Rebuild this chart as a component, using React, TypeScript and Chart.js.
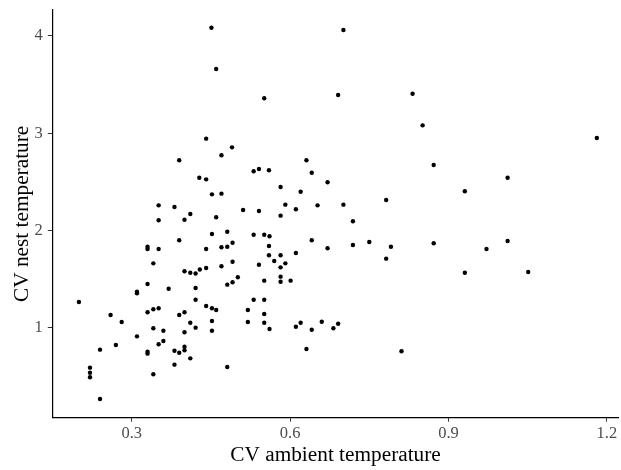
import { useEffect, useRef } from "react";
import { Chart, registerables } from "chart.js";

Chart.register(...registerables);

const xValues = [
  0.390, 0.330, 0.330, 0.351, 0.341, 0.400, 0.411, 0.421, 0.429, 0.330,
  0.310, 0.310, 0.370, 0.421, 0.421, 0.200, 0.330, 0.341, 0.351, 0.390,
  0.400, 0.260, 0.281, 0.411, 0.421, 0.341, 0.360, 0.400, 0.310, 0.360,
  0.351, 0.270, 0.240, 0.330, 0.330, 0.381, 0.390, 0.400, 0.400, 0.411,
  0.381, 0.341, 0.221, 0.221, 0.221, 0.240,
  0.452, 0.481, 0.531, 0.551, 0.561, 0.641, 0.671, 0.719, 0.441, 0.470,
  0.481, 0.491, 0.560, 0.560, 0.582, 0.611, 0.491, 0.570, 0.591, 0.541,
  0.582, 0.470, 0.441, 0.501, 0.491, 0.481, 0.551, 0.582, 0.582, 0.601,
  0.531, 0.551, 0.441, 0.452, 0.460, 0.520, 0.551, 0.452, 0.520, 0.551,
  0.452, 0.561, 0.611, 0.620, 0.641, 0.660, 0.682, 0.691, 0.631, 0.481,
  0.390, 0.428, 0.351, 0.381, 0.351, 0.400, 0.411,
  0.551, 0.441, 0.490, 0.470, 0.631, 0.531, 0.541, 0.560, 0.641, 0.441,
  0.671, 0.582, 0.620, 0.452, 0.470, 0.591, 0.611, 0.652, 0.701, 0.511,
  0.541, 0.460, 0.582, 0.719,
  0.832, 0.851, 1.181, 0.872, 1.012, 0.931, 0.782,
  0.750, 0.791, 0.782, 0.872, 0.972, 1.012, 0.931, 1.051, 0.811,
  0.451, 0.460, 0.701, 0.691,
];

const yValues = [
  1.901, 1.835, 1.811, 1.811, 1.664, 1.582, 1.568, 1.560, 1.601, 1.452,
  1.373, 1.356, 1.403, 1.411, 1.290, 1.267, 1.161, 1.192, 1.202, 1.133,
  1.161, 1.133, 1.061, 1.054, 1.003, 0.997, 0.972, 0.956, 0.914, 0.866,
  0.832, 0.825, 0.777, 0.756, 0.736, 0.766, 0.746, 0.808, 0.771, 0.688,
  0.623, 0.524, 0.592, 0.540, 0.493, 0.270,
  1.965, 1.989, 1.958, 1.958, 1.942, 1.901, 1.819, 1.852, 1.811, 1.829,
  1.835, 1.876, 1.842, 1.747, 1.747, 1.770, 1.681, 1.688, 1.664, 1.650,
  1.623, 1.634, 1.616, 1.521, 1.469, 1.445, 1.486, 1.527, 1.475, 1.486,
  1.290, 1.290, 1.226, 1.202, 1.185, 1.185, 1.144, 1.072, 1.061, 1.054,
  0.972, 0.989, 1.013, 1.054, 0.982, 1.064, 0.997, 1.044, 0.784, 0.599,
  2.723, 2.544, 2.260, 2.243, 2.106, 2.112, 2.171,
  3.360, 2.945, 2.856, 2.774, 2.723, 2.610, 2.633, 2.620, 2.595, 2.527,
  2.497, 2.448, 2.400, 2.373, 2.380, 2.267, 2.219, 2.260, 2.267, 2.212,
  2.202, 2.137, 2.154, 2.096,
  3.407, 3.082, 2.952, 2.674, 2.544, 2.404, 2.315,
  1.883, 1.835, 1.712, 1.870, 1.811, 1.894, 1.568, 1.575, 0.760,
  4.085, 3.661, 4.061, 3.394,
];

const xTicks = [0.3, 0.6, 0.9, 1.2];
const yTicks = [1, 2, 3, 4];
const xTitle = "CV ambient temperature";
const yTitle = "CV nest temperature";

const FONT = "'Liberation Serif', 'Times New Roman', serif";

export default function App() {
  const ref = useRef<HTMLCanvasElement>(null);

  useEffect(() => {
    if (!ref.current) return;
    const chart = new Chart(ref.current, {
      type: "scatter",
      data: {
        datasets: [
          {
            data: xValues.map((x, i) => ({ x, y: yValues[i] })),
            backgroundColor: "#000000",
            borderWidth: 0,
            pointRadius: 2.2,
            pointHoverRadius: 2.2,
          },
        ],
      },
      options: {
        responsive: false,
        animation: false,
        devicePixelRatio: 1,
        layout: { padding: { top: 10, right: 0, left: 0, bottom: 0 } },
        plugins: { legend: { display: false }, tooltip: { enabled: false } },
        scales: {
          x: {
            type: "linear",
            min: 0.1496,
            max: 1.2226,
            afterBuildTicks: (s: any) => {
              s.ticks = xTicks.map((v) => ({ value: v }));
            },
            afterFit: (s: any) => {
              s.height = 52.3;
              s.paddingLeft = 0;
              s.paddingRight = 0;
            },
            grid: {
              drawOnChartArea: false,
              drawTicks: true,
              tickLength: 4,
              tickColor: "#333333",
              tickWidth: 1,
            },
            border: { display: true, color: "#000000", width: 1.2 },
            ticks: {
              color: "#4d4d4d",
              font: { family: FONT, size: 16.5 },
              padding: 2.5,
              maxRotation: 0,
              autoSkip: false,
              callback: (v: any) => Number(v).toFixed(1),
            },
            title: {
              display: true,
              text: xTitle,
              color: "#000000",
              font: { family: FONT, size: 21.3 },
              padding: { top: 0, bottom: 1.7 },
            },
          },
          y: {
            type: "linear",
            min: 0.078,
            max: 4.267,
            afterBuildTicks: (s: any) => {
              s.ticks = yTicks.map((v) => ({ value: v }));
            },
            afterFit: (s: any) => {
              s.width = 52.3;
              s.paddingTop = 0;
              s.paddingBottom = 0;
            },
            grid: {
              drawOnChartArea: false,
              drawTicks: true,
              tickLength: 4.5,
              tickColor: "#333333",
              tickWidth: 1,
            },
            border: { display: true, color: "#000000", width: 1.2 },
            ticks: {
              color: "#4d4d4d",
              font: { family: FONT, size: 16.5 },
              padding: 5,
              autoSkip: false,
              callback: (v: any) => String(v),
            },
            title: {
              display: true,
              text: yTitle,
              color: "#000000",
              font: { family: FONT, size: 21.3 },
              padding: { top: 9.2, bottom: 0 },
            },
          },
        },
      },
    });
    return () => chart.destroy();
  }, []);

  return (
    <div style={{ position: "fixed", left: 0, top: 0, width: 621, height: 470, background: "#ffffff" }}>
      <canvas ref={ref} width={621} height={470} />
    </div>
  );
}
